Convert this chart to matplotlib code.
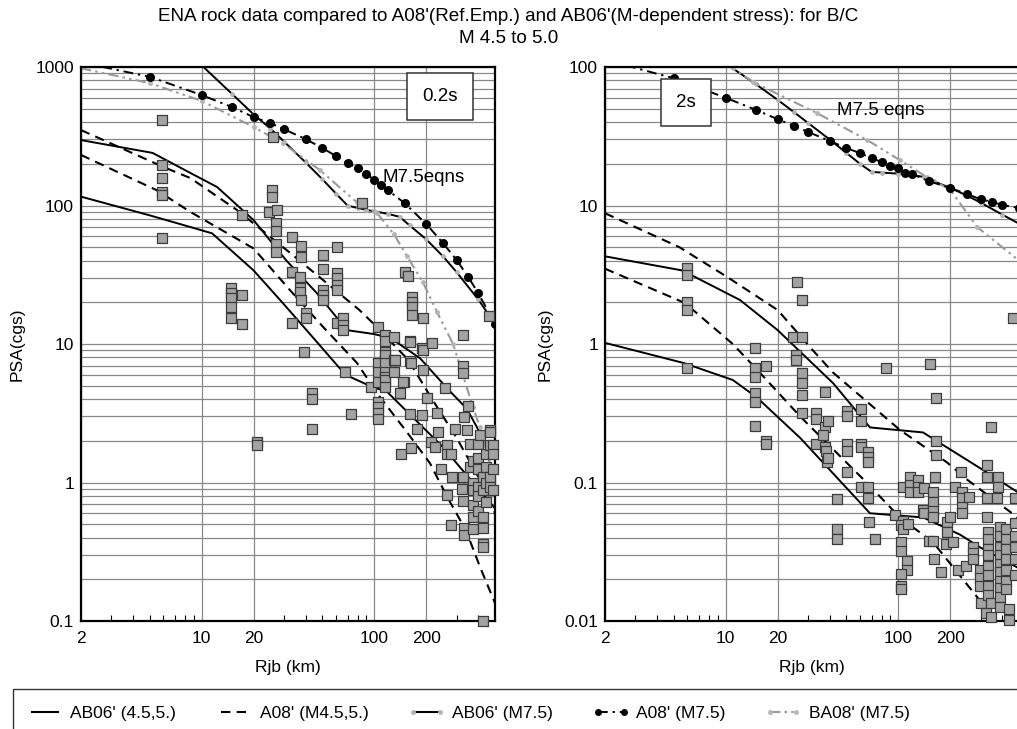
import matplotlib
matplotlib.use("Agg")
import matplotlib.pyplot as plt
from matplotlib.lines import Line2D
from matplotlib.patches import Rectangle
from matplotlib.ticker import FixedLocator, LogLocator, NullFormatter

plt.rcParams['font.family'] = ['Liberation Sans', 'DejaVu Sans']

# ---- 0.2 s panel: model curves (Rjb km, PSA cgs) ----
ab06_m5_r = [2, 5.2, 8.6, 12.3, 20, 31, 46.5, 69.5, 100, 125, 184, 264, 344, 500]
ab06_m5_y = [297, 240, 172, 136, 78.5, 40, 23.3, 12.6, 11.8, 11, 7.9, 4.8, 3.4, 1.45]
ab06_m45_r = [2, 5, 8.6, 11.5, 20, 29.5, 44, 68, 94, 119, 250, 500]
ab06_m45_y = [116, 85, 70, 63, 34, 19.8, 11.2, 6.0, 5.0, 4.5, 1.8, 0.65]
a08_m5_r = [2, 6, 8.6, 16, 31, 50.5, 82, 101, 157, 219, 300, 400, 500]
a08_m5_y = [351, 190, 158, 93, 47.8, 29, 17.6, 13.7, 7.7, 3.9, 2.1, 1.1, 0.6]
a08_m45_r = [2, 5.5, 8.6, 20, 32.5, 50.5, 79.4, 104, 155, 210, 264, 340, 410, 500]
a08_m45_y = [232, 129, 90, 49, 24.5, 13.3, 7.3, 4.4, 2.3, 1.38, 0.79, 0.45, 0.245, 0.135]

ab06_m75_r = [8, 10, 15, 20, 25, 30, 40, 50, 60, 70, 80, 90, 100, 120, 140, 160, 200, 250, 300, 400, 500]
ab06_m75_y = [1400, 1030, 640, 455, 360, 290, 205, 155, 122, 100, 96, 93, 91, 87, 83, 72, 57, 43, 33, 21, 14]
a08_m75_r = [2, 5, 10, 15, 20, 25, 30, 40, 50, 60, 70, 80, 90, 100, 110, 120, 150, 200, 250, 300, 350, 400, 500]
a08_m75_y = [1080, 851, 628, 514, 435, 394, 356, 302, 260, 228, 203, 186, 169, 153, 141, 129, 104, 73.5, 53.6, 40.4, 30.5, 23.3, 14]
ba08_m75_r = [2, 5, 10, 20, 29.5, 48.5, 79, 104, 130, 155, 191, 231, 286, 373, 410, 500]
ba08_m75_y = [980, 766, 570, 369, 282, 180, 106, 88, 62, 43, 28, 17, 10, 3.5, 2.5, 1.0]

# ---- 0.2 s panel: ENA rock data ----
obs02_r = [5.9, 5.9, 5.9, 5.9, 5.9, 5.9,
           14.8, 14.8, 14.8, 14.8, 14.8, 17.1, 17.1, 17.1, 21, 21,
           25.9, 25.6, 25.6, 24.5, 27.3, 27, 27, 27, 27,
           33.4, 33.4, 33.4, 37.5, 37.5, 37, 37, 37, 37.5, 40, 40, 39,
           43.5, 43.5, 43.5, 50.5, 50.5, 50.5, 50.5, 50.5,
           60.8, 60.8, 60.8, 60.8, 60.8, 60.8, 66, 66, 66, 68, 73, 85, 96,
           105, 105, 105, 105, 105, 105, 105, 105,
           116, 116, 116, 116, 116, 116, 116, 116, 116,
           130, 130, 130, 131, 141, 148, 143, 151,
           157, 166, 166, 166, 165, 160, 161, 160, 163, 147, 161, 163, 177,
           191, 190, 191, 191, 189, 202, 216, 212, 224, 231, 234, 245, 257, 263, 263, 263,
           280, 280, 283, 295, 327, 327, 327, 330, 327, 323, 327, 330, 330, 344, 349,
           358, 358, 373, 373, 373, 373, 373, 373, 399, 399, 399, 399, 399, 399, 410,
           424, 424, 424, 424, 429, 429, 429, 446, 446, 446, 446,
           462, 467, 467, 467, 467, 466, 485, 485, 485, 485]
obs02_y = [414, 196, 158, 125, 120, 58,
           25.3, 23.3, 21.5, 18.6, 15.5, 85, 22.6, 13.9, 1.96, 1.87,
           313, 130, 115, 90, 93, 75, 66, 53, 46,
           59, 33, 14.2, 51, 42.5, 30.7, 25.3, 23.7, 20.7, 16.7, 15.5, 8.75,
           4.4, 4.0, 2.43, 44, 35, 24.5, 22.6, 20.7,
           50, 32.4, 30, 26.8, 24.5, 14.2, 15.5, 13.8, 12.6, 6.3, 3.1, 104, 4.9,
           13.3, 7.3, 6.3, 5.3, 3.8, 3.5, 3.2, 2.9,
           11.6, 10.6, 8.7, 8.3, 7.3, 6.3, 5.8, 5.5, 4.9,
           11.2, 7.7, 6.3, 7.7, 4.4, 5.3, 1.6, 33,
           31, 22, 20, 18.4, 16.2, 10.6, 10.4, 7.5, 7.3, 5.3, 3.1, 1.78, 2.43,
           15.5, 9.4, 9.1, 6.5, 3.05, 4.1, 10.1, 1.96, 1.8, 3.2, 2.3, 1.25, 4.8, 1.87, 1.6, 0.81,
           0.49, 1.6, 1.1, 2.43, 11.6, 7.0, 6.2, 2.95, 1.1, 0.9, 0.74, 0.47, 0.42, 2.4, 3.6,
           1.9, 1.3, 1.44, 1.0, 0.88, 0.69, 0.56, 0.46, 1.9, 1.5, 1.25, 0.93, 0.8, 0.62, 2.2,
           1.1, 0.88, 0.56, 0.47, 0.36, 0.34, 0.1, 1.6, 1.3, 1.0, 0.72,
           15.9, 2.4, 1.87, 1.1, 0.93, 2.3, 1.87, 1.6, 1.25, 0.88]

# ---- 2 s panel: model curves ----
ab06_m5_r2 = [2, 5.6, 12.1, 20, 42, 68.5, 139, 310, 500]
ab06_m5_y2 = [4.3, 3.4, 2.08, 1.26, 0.52, 0.25, 0.23, 0.123, 0.084]
ab06_m45_r2 = [2, 5.7, 11, 15.2, 27, 68.5, 139, 228, 298, 500]
ab06_m45_y2 = [1.02, 0.73, 0.55, 0.41, 0.21, 0.06, 0.056, 0.042, 0.034, 0.024]
a08_m5_r2 = [2, 5.4, 10.2, 20, 32, 42, 102, 191, 250, 500]
a08_m5_y2 = [8.8, 5.0, 3.05, 1.76, 0.9, 0.62, 0.24, 0.14, 0.105, 0.055]
a08_m45_r2 = [2, 5.8, 11, 15.8, 27, 66, 102, 159, 286, 355, 500]
a08_m45_y2 = [3.5, 1.98, 1.0, 0.62, 0.30, 0.099, 0.056, 0.037, 0.0149, 0.0101, 0.0055]

ab06_m75_r2 = [9, 10, 15, 20, 25, 30, 40, 50, 60, 70, 80, 100, 120, 140, 160, 200, 250, 300, 400, 500]
ab06_m75_y2 = [115, 106, 75, 58, 47, 39.5, 30, 24, 20, 17.5, 17.3, 17, 16.6, 16.1, 15, 13.4, 11.8, 10.5, 8.6, 7.4]
a08_m75_r2 = [2, 5, 10, 15, 20, 25, 30, 40, 50, 60, 70, 80, 90, 100, 110, 120, 150, 200, 250, 300, 350, 400, 500]
a08_m75_y2 = [113, 83, 60, 49, 42, 37.5, 34, 29.3, 26, 23.9, 22, 20.6, 19.3, 18.6, 17.2, 16.9, 15, 13.4, 12.1, 11.1, 10.6, 10.1, 9.6]
ba08_m75_r2 = [2, 11, 14.4, 33.8, 66, 102, 147, 200, 286, 500]
ba08_m75_y2 = [400, 98, 78, 46.5, 29.7, 21.3, 16, 13, 7, 4.0]

# ---- 2 s panel: ENA rock data ----
obs2_r = [6.0, 6.0, 6.0, 6.0, 6.0,
          14.8, 14.8, 14.8, 14.8, 14.8, 14.8, 17.1, 17.1, 17.1, 24.4,
          25.9, 27.6, 27.6, 25.5, 25.5, 27.6, 27.6, 27.6, 27.6,
          33.4, 33.4, 33.4, 37.7, 37.7, 39, 36.8, 37.5, 38, 38.5, 39,
          44, 44, 44, 50.5, 50.5, 50.5, 50.5, 50.5,
          60.8, 60.8, 60.8, 61, 61, 67, 67, 67, 67, 67, 68, 73, 85, 96,
          106, 104, 106, 114, 104, 104, 112, 112, 104, 104, 104, 106,
          117, 117, 117, 130, 130, 130, 141, 139, 141,
          150, 159, 159, 159, 159, 159, 161, 153, 166, 166, 166, 163, 177,
          191, 191, 188, 208, 200, 212, 222, 234, 234, 234, 234, 231, 245, 257,
          271, 271, 271, 298, 298, 298, 303, 320,
          327, 327, 327, 327, 331, 331, 331, 331, 331, 331, 331, 331,
          344, 345, 345, 380, 380, 375, 388, 388, 388, 388, 388, 388, 388, 388, 388, 388,
          421, 421, 421, 421, 421, 421, 421, 439, 439,
          462, 475, 475, 475, 475, 475, 475]
obs2_y = [3.55, 3.16, 2.0, 1.76, 0.67,
          0.93, 0.67, 0.58, 0.44, 0.38, 0.256, 0.69, 0.2, 0.19, 1.12,
          2.8, 2.08, 1.12, 0.83, 0.77, 0.62, 0.52, 0.43, 0.32,
          0.32, 0.29, 0.19, 0.45, 0.25, 0.28, 0.22, 0.18, 0.17, 0.14, 0.15,
          0.076, 0.046, 0.039, 0.33, 0.30, 0.19, 0.17, 0.12,
          0.34, 0.28, 0.19, 0.18, 0.093, 0.166, 0.154, 0.14, 0.093, 0.077, 0.052, 0.039, 0.67, 0.058,
          0.053, 0.049, 0.046, 0.05, 0.037, 0.032, 0.027, 0.0235, 0.022, 0.018, 0.017, 0.093,
          0.11, 0.096, 0.085, 0.104, 0.093, 0.085, 0.091, 0.063, 0.06,
          0.038, 0.038, 0.085, 0.072, 0.062, 0.056, 0.028, 0.72, 0.41, 0.2, 0.157, 0.11, 0.0225,
          0.052, 0.044, 0.036, 0.037, 0.056, 0.093, 0.0235, 0.085, 0.077, 0.067, 0.06, 0.12, 0.025, 0.078,
          0.0345, 0.031, 0.028, 0.0235, 0.0205, 0.018, 0.0135, 0.0115,
          0.134, 0.11, 0.077, 0.056, 0.044, 0.039, 0.033, 0.030, 0.025, 0.0215, 0.018, 0.0154,
          0.25, 0.0135, 0.0107, 0.11, 0.093, 0.077, 0.048, 0.041, 0.0345, 0.030, 0.026, 0.0225, 0.0195, 0.0172, 0.0148, 0.0126,
          0.046, 0.039, 0.033, 0.028, 0.0235, 0.0195, 0.0169, 0.0123, 0.0101,
          1.55, 0.077, 0.051, 0.041, 0.0345, 0.028, 0.0215]

xticks = [2, 10, 20, 100, 200]
xticklabels = ['2', '10', '20', '100', '200']

GRAY = '#9a9a9a'
DASH = (0, (4.5, 3))
DASHDOT = (0, (5, 2.5, 1.2, 2.5))
DASHDOTDOT = (0, (5, 2, 1.2, 2, 1.2, 2))


def setup_axes(ax, ylim, yticks, ylabels):
    ax.set_xscale('log')
    ax.set_yscale('log')
    ax.set_xlim(2, 500)
    ax.set_ylim(*ylim)
    ax.xaxis.set_major_locator(FixedLocator(xticks))
    ax.set_xticklabels(xticklabels)
    ax.xaxis.set_minor_locator(LogLocator(base=10, subs=range(2, 10)))
    ax.xaxis.set_minor_formatter(NullFormatter())
    ax.set_yticks(yticks)
    ax.set_yticklabels(ylabels)
    ax.yaxis.set_minor_locator(LogLocator(base=10, subs=range(2, 10)))
    ax.yaxis.set_minor_formatter(NullFormatter())
    ax.grid(which='major', color='#888888', linewidth=0.9)
    ax.grid(which='minor', axis='y', color='#888888', linewidth=0.9)
    ax.tick_params(which='both', direction='in', labelsize=12.5)
    ax.tick_params(axis='x', which='major', length=0, pad=7)
    ax.tick_params(axis='x', which='minor', length=4, width=0.8)
    ax.tick_params(axis='y', which='both', length=0, pad=5)
    for s in ax.spines.values():
        s.set_linewidth(1.6)
    ax.set_xlabel('Rjb (km)', fontsize=12.5, labelpad=10)
    ax.set_ylabel('PSA(cgs)', fontsize=12.5, labelpad=8)


def draw(ax, models, obs_r, obs_y):
    (r1, y1), (r2, y2), (r3, y3), (r4, y4), (r5, y5), (r6, y6), (r7, y7) = models
    ax.plot(r1, y1, color='black', lw=1.4)
    ax.plot(r2, y2, color='black', lw=1.4)
    ax.plot(r3, y3, color='black', lw=1.5, ls=DASH)
    ax.plot(r4, y4, color='black', lw=1.5, ls=DASH)
    ax.plot(r5, y5, color='black', lw=1.4, marker='o', ms=2.5,
            mfc='#b5b5b5', mec='#b5b5b5')
    ax.plot(r7, y7, color=GRAY, lw=1.5, ls=DASHDOTDOT, marker='o', ms=2.5,
            mfc='#b5b5b5', mec='#b5b5b5')
    ax.plot(r6, y6, color='black', lw=1.4, ls=DASHDOT, marker='o', ms=5.5)
    ax.scatter(obs_r, obs_y, marker='s', s=42, facecolor='#a3a3a3',
               edgecolor='#3c3c3c', linewidth=0.9, zorder=5, clip_on=False)


fig = plt.figure(figsize=(10.17, 7.29), dpi=100)
ax1 = fig.add_axes([0.0796, 0.1481, 0.4071, 0.7599])
ax2 = fig.add_axes([0.5949, 0.1481, 0.4071, 0.7599])

setup_axes(ax1, (0.1, 1000), [0.1, 1, 10, 100, 1000], ['0.1', '1', '10', '100', '1000'])
setup_axes(ax2, (0.01, 100), [0.01, 0.1, 1, 10, 100], ['0.01', '0.1', '1', '10', '100'])

draw(ax1, [(ab06_m5_r, ab06_m5_y), (ab06_m45_r, ab06_m45_y),
           (a08_m5_r, a08_m5_y), (a08_m45_r, a08_m45_y),
           (ab06_m75_r, ab06_m75_y), (a08_m75_r, a08_m75_y),
           (ba08_m75_r, ba08_m75_y)], obs02_r, obs02_y)
draw(ax2, [(ab06_m5_r2, ab06_m5_y2), (ab06_m45_r2, ab06_m45_y2),
           (a08_m5_r2, a08_m5_y2), (a08_m45_r2, a08_m45_y2),
           (ab06_m75_r2, ab06_m75_y2), (a08_m75_r2, a08_m75_y2),
           (ba08_m75_r2, ba08_m75_y2)], obs2_r, obs2_y)

box = dict(boxstyle='square,pad=0.8', facecolor='white', edgecolor='#333333', linewidth=1.1)
ax1.text(0.867, 0.946, '0.2s', transform=ax1.transAxes, ha='center', va='center',
         fontsize=13.5, bbox=box, zorder=10)
ax2.text(0.196, 0.936, '2s', transform=ax2.transAxes, ha='center', va='center',
         fontsize=13.5, bbox=box, zorder=10)
ax1.text(0.729, 0.80, 'M7.5eqns', transform=ax1.transAxes, ha='left', va='center',
         fontsize=13.5, zorder=10)
ax2.text(0.560, 0.922, 'M7.5 eqns', transform=ax2.transAxes, ha='left', va='center',
         fontsize=13.5, zorder=10)

fig.text(0.5, 0.989, "ENA rock data compared to A08'(Ref.Emp.) and AB06'(M-dependent stress): for B/C\nM 4.5 to 5.0",
         ha='center', va='top', fontsize=13.6, linespacing=1.4)

# legend frame runs past the right and bottom edges of the figure
fig.patches.append(Rectangle((13 / 1017, -0.05), 1.0, 0.05 + 40 / 729,
                             transform=fig.transFigure, facecolor='white',
                             edgecolor='#333333', linewidth=1.0, zorder=0))

handles = [
    Line2D([], [], color='black', lw=1.5),
    Line2D([], [], color='black', lw=1.5, ls=DASH),
    Line2D([], [], color='black', lw=1.5, marker='o', ms=2.5, mfc='#b5b5b5', mec='#b5b5b5'),
    Line2D([], [], color='black', lw=1.4, ls=DASHDOT, marker='o', ms=4),
    Line2D([], [], color=GRAY, lw=1.5, ls=DASHDOTDOT, marker='o', ms=2.5, mfc='#b5b5b5', mec='#b5b5b5'),
]
labels = ["AB06' (4.5,5.)", "A08' (M4.5,5.)", "AB06' (M7.5)", "A08' (M7.5)", "BA08' (M7.5)"]
leg = fig.legend(handles, labels, loc='center left', bbox_to_anchor=(27 / 1017, 16 / 729),
                 ncol=5, numpoints=2, fontsize=12.5, frameon=False,
                 borderpad=0, handlelength=2.1, handletextpad=0.4,
                 columnspacing=2.3, borderaxespad=0)

fig.savefig('out.png', dpi=100)
